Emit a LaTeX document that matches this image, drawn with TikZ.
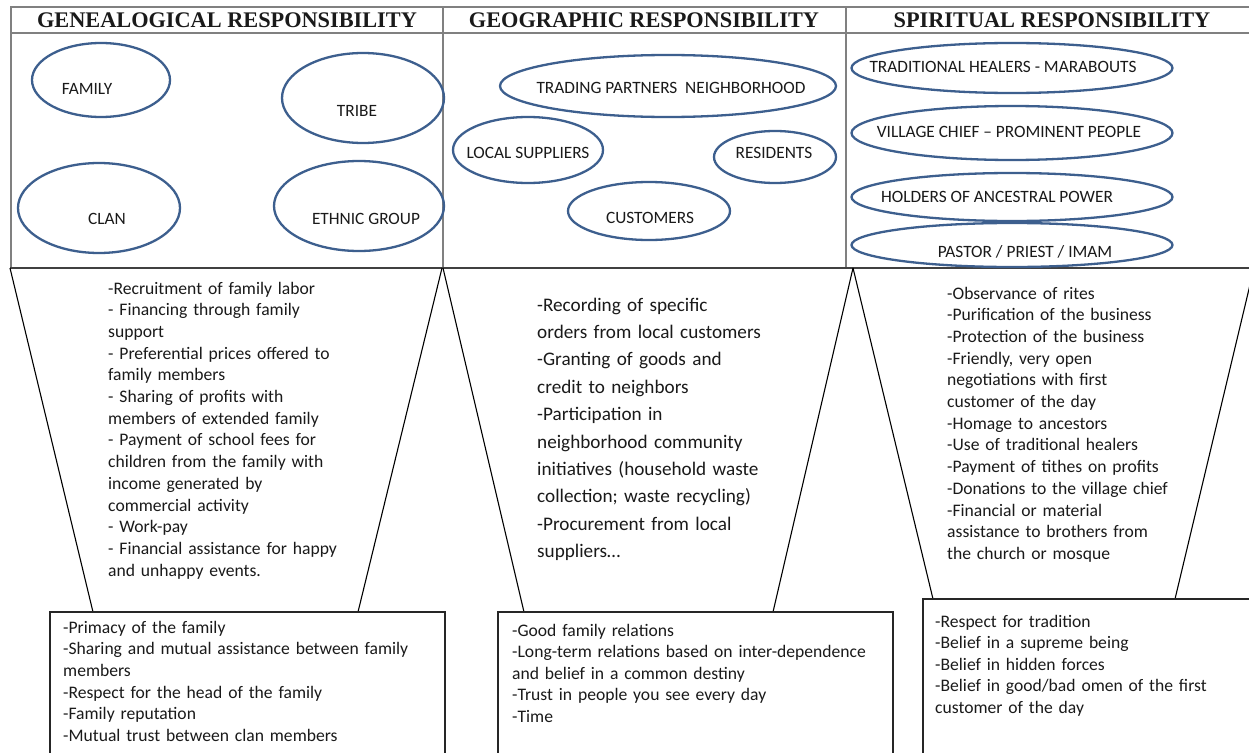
\documentclass[tikz,border=0pt]{standalone}
\usepackage{fontspec}
\setmainfont{Carlito}
\newfontfamily\hdrfont{Liberation Serif}
\usetikzlibrary{shapes.geometric}
\definecolor{ellblue}{HTML}{3D5F8E}
\definecolor{tabgray}{HTML}{808080}
\definecolor{txt}{HTML}{1A1A1A}
\tikzset{
  ell/.style={draw=ellblue, line width=2.3pt, ellipse, inner sep=0pt},
  elltxt/.style={font=\fontsize{17.3}{20}\selectfont, text=txt, inner sep=0pt, text height=11pt, text depth=0pt},
  hdr/.style={font=\hdrfont\bfseries\fontsize{22.3}{26}\selectfont, text=txt, anchor=base, inner sep=0pt},
  body/.style={font=\fontsize{17.6}{21.7}\selectfont, text=txt, align=left, text width=360pt, anchor=base west, inner sep=0pt},
  bodybig/.style={body, font=\fontsize{19.2}{27.4}\selectfont},
  funnel/.style={draw=black, line width=1.1pt},
  boxline/.style={draw=black!85, line width=1.3pt},
  tab/.style={draw=tabgray, line width=1.2pt},
}
\begin{document}
\begin{tikzpicture}[x=1pt,y=-1pt]
\useasboundingbox (0,0) rectangle (1249,752);
\clip (0,0) rectangle (1249,752);
\fill[white] (0,0) rectangle (1249,752);

% table
\draw[tab] (11,7) rectangle (1258,268);
\draw[tab] (11,33) -- (1258,33);
\draw[tab] (443,7) -- (443,268);
\draw[tab] (846,7) -- (846,268);
\draw[draw=black!75, line width=1.6pt] (10,268) -- (1258,268);

% headers
\node[hdr] (h1) at (227,28) {GENEALOGICAL RESPONSIBILITY};
\node[hdr] (h2) at (644,28) {GEOGRAPHIC RESPONSIBILITY};
\node[hdr] (h3) at (1052,28) {SPIRITUAL RESPONSIBILITY};

% genealogical ellipses
\node[ell, minimum width=138pt, minimum height=74pt] (famE) at (101,80) {};
\node[ell, minimum width=162pt, minimum height=90pt] (triE) at (363,98) {};
\node[ell, minimum width=162pt, minimum height=90pt] (clnE) at (99,208) {};
\node[ell, minimum width=170pt, minimum height=90pt] (ethE) at (359,206) {};
\node[elltxt] (famT) at (87,89) {FAMILY};
\node[elltxt] (triT) at (357,111) {TRIBE};
\node[elltxt] (clnT) at (107,219) {CLAN};
\node[elltxt] (ethT) at (366,219) {ETHNIC GROUP};

% geographic ellipses
\node[ell, minimum width=336pt, minimum height=62pt] (trdE) at (668,86) {};
\node[ell, minimum width=150pt, minimum height=66pt] (locE) at (528,150) {};
\node[ell, minimum width=122pt, minimum height=52pt] (resE) at (775,157) {};
\node[ell, minimum width=162pt, minimum height=58pt] (cusE) at (649,211) {};
\node[elltxt] (trdT) at (671,88) {TRADING PARTNERS\ \ NEIGHBORHOOD};
\node[elltxt] (locT) at (528,153) {LOCAL SUPPLIERS};
\node[elltxt] (resT) at (774,153) {RESIDENTS};
\node[elltxt] (cusT) at (650,218) {CUSTOMERS};

% spiritual ellipses
\node[ell, minimum width=321pt, minimum height=50pt] (heaE) at (1012,68) {};
\node[ell, minimum width=321pt, minimum height=54pt] (vilE) at (1012,133) {};
\node[ell, minimum width=321pt, minimum height=48pt] (holE) at (1012,197) {};
\node[ell, minimum width=321pt, minimum height=44pt] (pasE) at (1012,245) {};
\node[elltxt] (heaT) at (1003,67) {TRADITIONAL HEALERS - MARABOUTS};
\node[elltxt] (vilT) at (1009,132) {VILLAGE CHIEF – PROMINENT PEOPLE};
\node[elltxt] (holT) at (997,197) {HOLDERS OF ANCESTRAL POWER};
\node[elltxt] (pasT) at (1025,252) {PASTOR / PRIEST / IMAM};

% funnel coordinates
\coordinate (f1a) at (10,268);
\coordinate (f1b) at (442,268);
\coordinate (f1c) at (93,612);
\coordinate (f1d) at (358,612);
\coordinate (f2a) at (443,268);
\coordinate (f2b) at (853,268);
\coordinate (f2c) at (524,612);
\coordinate (f2d) at (773,612);
\coordinate (f3a) at (853,268);
\coordinate (f3b) at (1254,268);
\coordinate (f3c) at (933,599);
\coordinate (f3d) at (1175,599);
\draw[funnel] (f1a) -- (f1c);
\draw[funnel] (f1b) -- (f1d);
\draw[funnel] (f2a) -- (f2c);
\draw[funnel] (f2b) -- (f2d);
\draw[funnel] (f3a) -- (f3c);
\draw[funnel] (f3b) -- (f3d);

% funnel texts
\node[body] (t1) at (108,294) {-Recruitment of family labor\\
- Financing through family\\
support\\
- Preferential prices offered to\\
family members\\
- Sharing of profits with\\
members of extended family\\
- Payment of school fees for\\
children from the family with\\
income generated by\\
commercial activity\\
- Work-pay\\
- Financial assistance for happy\\
and unhappy events.};

\node[bodybig] (t2) at (537,311) {-Recording of specific\\
orders from local customers\\
-Granting of goods and\\
credit to neighbors\\
-Participation in\\
neighborhood community\\
initiatives (household waste\\
collection; waste recycling)\\
-Procurement from local\\
suppliers…};

\node[body] (t3) at (947,299) {-Observance of rites\\
-Purification of the business\\
-Protection of the business\\
-Friendly, very open\\
negotiations with first\\
customer of the day\\
-Homage to ancestors\\
-Use of traditional healers\\
-Payment of tithes on profits\\
-Donations to the village chief\\
-Financial or material\\
assistance to brothers from\\
the church or mosque};

% bottom boxes
\draw[boxline] (50,770) -- (50,612) -- (445,612) -- (445,770);
\draw[boxline] (498,770) -- (498,612) -- (893,612) -- (893,770);
\draw[boxline] (923,770) -- (923,599) -- (1262,599);

\node[body] (b1) at (63,633) {-Primacy of the family\\
-Sharing and mutual assistance between family\\
members\\
-Respect for the head of the family\\
-Family reputation\\
-Mutual trust between clan members};

\node[body, font=\fontsize{17.6}{21.5}\selectfont] (b2) at (512,636) {-Good family relations\\
-Long-term relations based on inter-dependence\\
and belief in a common destiny\\
-Trust in people you see every day\\
-Time};

\node[body, font=\fontsize{17.6}{21.5}\selectfont] (b3) at (935,627) {-Respect for tradition\\
-Belief in a supreme being\\
-Belief in hidden forces\\
-Belief in good/bad omen of the first\\
customer of the day};
\end{tikzpicture}
\end{document}
